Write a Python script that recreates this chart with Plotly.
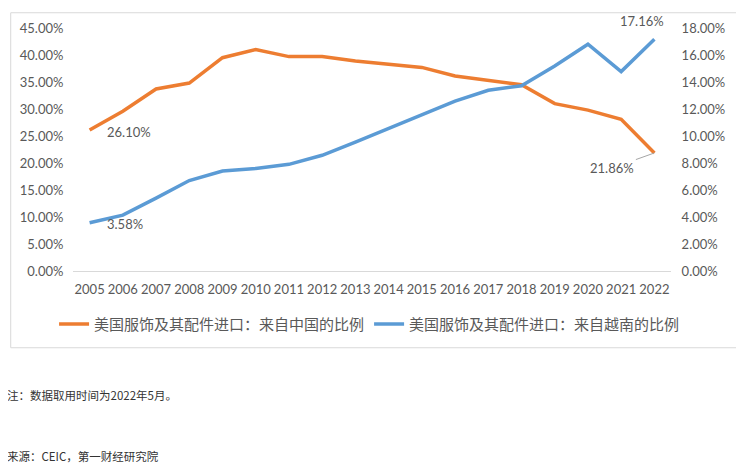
import plotly.graph_objects as go

years = list(range(2005, 2023))
china_share = [26.10, 29.6, 33.7, 34.8, 39.5, 41.0, 39.7, 39.7, 38.9, 38.3, 37.7, 36.1, 35.3, 34.5, 31.0, 29.8, 28.1, 21.86]
vietnam_share = [3.58, 4.14, 5.4, 6.7, 7.4, 7.6, 7.9, 8.57, 9.54, 10.56, 11.56, 12.58, 13.39, 13.72, 15.18, 16.8, 14.77, 17.16]
left_ticks = [0, 5, 10, 15, 20, 25, 30, 35, 40, 45]
right_ticks = [0, 2, 4, 6, 8, 10, 12, 14, 16, 18]
name_china = "美国服饰及其配件进口：来自中国的比例"
name_vn = "美国服饰及其配件进口：来自越南的比例"
note_text = "注：数据取用时间为2022年5月。"
source_text = "来源：CEIC，第一财经研究院"

# page body has an 8px margin; the figure is sized so it ends at the window edge
OFF = 8
W, H = 736, 458
L, R, T, B = 63, 73, 16, 195
PW, PH = W - L - R, H - T - B


def px(x):
    return (x - OFF - L) / PW


def py(y):
    return (H - B - (y - OFF)) / PH


FONT = "Lato, Noto Sans CJK SC, sans-serif"
GREY = "#595959"
ORANGE = "#ED7D31"
BLUE = "#5B9BD5"

fig = go.Figure()
fig.add_trace(go.Scatter(x=years, y=china_share, name=name_china, mode="lines",
                         line=dict(color=ORANGE, width=3.5), yaxis="y"))
fig.add_trace(go.Scatter(x=years, y=vietnam_share, name=name_vn, mode="lines",
                         line=dict(color=BLUE, width=3.5), yaxis="y2"))

ann = []
ann.append(dict(x=years[0], y=china_share[0], yref="y", text=f"{china_share[0]:.2f}%",
                showarrow=False, xanchor="left", xshift=15, yshift=-2,
                font=dict(size=13, color=GREY, family=FONT)))
ann.append(dict(x=years[0], y=vietnam_share[0], yref="y2", text=f"{vietnam_share[0]:.2f}%",
                showarrow=False, xanchor="left", xshift=15, yshift=-1,
                font=dict(size=13, color=GREY, family=FONT)))
ann.append(dict(x=years[-1], y=vietnam_share[-1], yref="y2", text=f"{vietnam_share[-1]:.2f}%",
                showarrow=False, xanchor="center", yanchor="bottom", xshift=-12, yshift=8,
                font=dict(size=13, color=GREY, family=FONT)))
ann.append(dict(x=years[-1], y=china_share[-1], yref="y", text=f"{china_share[-1]:.2f}%",
                showarrow=True, arrowhead=0, arrowwidth=1, arrowcolor="#a6a6a6",
                ax=-42, ay=15, standoff=0,
                font=dict(size=13, color=GREY, family=FONT)))
ann.append(dict(x=px(3), y=py(397), xref="paper", yref="paper", text=note_text,
                showarrow=False, xanchor="left", yanchor="middle",
                font=dict(size=11.5, color="#333333", family="Noto Sans CJK SC")))
ann.append(dict(x=px(3), y=py(459), xref="paper", yref="paper", text=source_text,
                showarrow=False, xanchor="left", yanchor="middle",
                font=dict(size=11.5, color="#333333", family="Noto Sans CJK SC")))

fig.update_layout(
    width=W, height=H,
    margin=dict(l=L, r=R, t=T, b=B, pad=0),
    paper_bgcolor="white", plot_bgcolor="white",
    font=dict(family=FONT, color=GREY, size=13),
    showlegend=True,
    legend=dict(orientation="h", x=px(52), xanchor="left", y=py(325), yanchor="middle",
                font=dict(size=15, color=GREY, family="Noto Sans CJK SC"),
                itemwidth=30, tracegroupgap=0, bgcolor="rgba(0,0,0,0)"),
    xaxis=dict(range=[2004.5, 2022.5], tickmode="array", tickvals=years,
               ticktext=[str(y) for y in years], showgrid=False, zeroline=False,
               showline=True, linecolor="#d9d9d9", linewidth=1, ticks="outside",
               ticklen=6, tickcolor="rgba(0,0,0,0)", tickfont=dict(size=13)),
    yaxis=dict(range=[0, 45], tickmode="array", tickvals=left_ticks,
               ticktext=[f"{v:.2f}%" for v in left_ticks], showgrid=False, zeroline=False,
               showline=False, ticks="outside", ticklen=6, tickcolor="rgba(0,0,0,0)",
               tickfont=dict(size=13)),
    yaxis2=dict(range=[0, 18], overlaying="y", side="right", tickmode="array",
                tickvals=right_ticks, ticktext=[f"{v:.2f}%" for v in right_ticks],
                showgrid=False, zeroline=False, showline=False, ticks="outside",
                ticklen=7, tickcolor="rgba(0,0,0,0)", tickfont=dict(size=13)),
    annotations=ann,
    shapes=[dict(type="rect", xref="paper", yref="paper", x0=px(8.5), x1=px(738),
                 y0=py(349), y1=py(8.5), line=dict(color="#d9d9d9", width=1),
                 fillcolor="rgba(0,0,0,0)", layer="below")],
)

fig.write_html("out.html")
